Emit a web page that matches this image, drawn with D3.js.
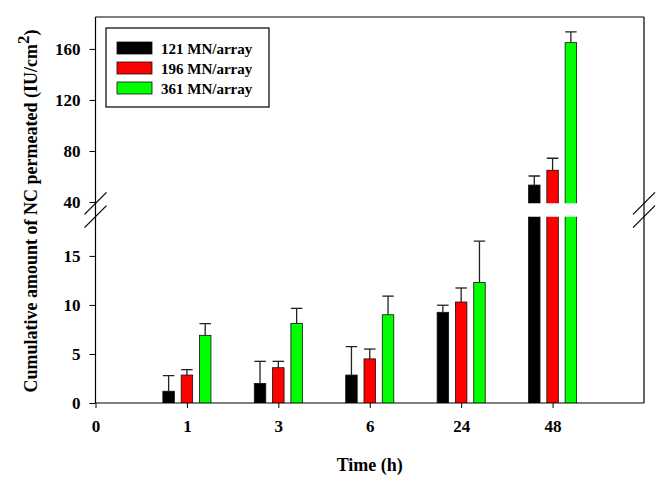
<!DOCTYPE html>
<html>
<head>
<meta charset="utf-8">
<script src="https://cdn.jsdelivr.net/npm/d3@7"></script>
<style>
  body { margin: 0; background: #fff; }
  text { font-family: "Liberation Serif", "Times New Roman", serif; font-weight: bold; }
</style>
</head>
<body>
<div id="chart"></div>
<script>
// data
const times = ["0", "1", "3", "6", "24", "48"];
const seriesNames = ["121 MN/array", "196 MN/array", "361 MN/array"];
const seriesColors = ["#000000", "#ff0000", "#00ff00"];
const mean121 = [null, 1.2, 2.0, 2.85, 9.25, 53.3];
const sd121   = [null, 1.6, 2.25, 2.9, 0.72, 7.1];
const mean196 = [null, 2.85, 3.6, 4.5, 10.3, 64.9];
const sd196   = [null, 0.55, 0.65, 1.0, 1.43, 9.4];
const mean361 = [null, 6.9, 8.1, 9.0, 12.3, 164.9];
const sd361   = [null, 1.2, 1.55, 1.9, 4.2, 8.4];
const lowTicks = [0, 5, 10, 15];
const highTicks = [40, 80, 120, 160];

const means = [mean121, mean196, mean361];
const sds = [sd121, sd196, sd361];

const W = 671, H = 482;
const pLeft = 95.5, pRight = 644, pTop = 17, pBottom = 403;
const lowTop = 216.7, highBottom = 203.3;

const svg = d3.select("#chart").append("svg")
  .attr("width", W).attr("height", H);

const x = d3.scaleLinear().domain([0, 6]).range([pLeft, pRight]);
const yLow = d3.scaleLinear().domain([0, 19]).range([pBottom, lowTop]);
const yHigh = d3.scaleLinear().domain([39, 185]).range([highBottom, pTop]);

const barW = 11.5, barStep = 18.3;

// bars, drawn in both panels and clipped
svg.append("clipPath").attr("id", "clipLow").append("rect")
  .attr("x", pLeft).attr("y", lowTop).attr("width", pRight - pLeft).attr("height", pBottom - lowTop);
svg.append("clipPath").attr("id", "clipHigh").append("rect")
  .attr("x", pLeft).attr("y", pTop).attr("width", pRight - pLeft).attr("height", highBottom - pTop);

const rows = [];
means.forEach((m, s) => {
  m.forEach((v, i) => {
    if (v != null) rows.push({ s, i, v, sd: sds[s][i] });
  });
});

function drawPanel(y, clip, domainMin) {
  const g = svg.append("g").attr("clip-path", `url(#${clip})`);
  g.selectAll("rect.bar")
    .data(rows.filter(d => d.v > domainMin))
    .enter().append("rect")
    .attr("class", "bar")
    .attr("x", d => x(d.i) + (d.s - 1) * barStep - barW / 2)
    .attr("width", barW)
    .attr("y", d => y(d.v))
    .attr("height", d => y(domainMin) - y(d.v) + 2)
    .attr("fill", d => seriesColors[d.s])
    .attr("stroke", "#111")
    .attr("stroke-width", 0.8);

  const eb = g.selectAll("g.err")
    .data(rows.filter(d => d.v + d.sd > domainMin && d.v < y.domain()[1]))
    .enter().append("g").attr("class", "err");
  eb.append("line")
    .attr("x1", d => x(d.i) + (d.s - 1) * barStep)
    .attr("x2", d => x(d.i) + (d.s - 1) * barStep)
    .attr("y1", d => y(d.v))
    .attr("y2", d => y(d.v + d.sd))
    .attr("stroke", "#222").attr("stroke-width", 1.3);
  eb.append("line")
    .attr("x1", d => x(d.i) + (d.s - 1) * barStep - barW / 2)
    .attr("x2", d => x(d.i) + (d.s - 1) * barStep + barW / 2)
    .attr("y1", d => y(d.v + d.sd))
    .attr("y2", d => y(d.v + d.sd))
    .attr("stroke", "#222").attr("stroke-width", 1.3);
}
drawPanel(yLow, "clipLow", 0);
drawPanel(yHigh, "clipHigh", 39);

// axes
const tickFont = 17;
const axLow = svg.append("g").attr("transform", `translate(${pLeft},0)`)
  .call(d3.axisLeft(yLow).tickValues(lowTicks).tickSize(6).tickPadding(9));
const axHigh = svg.append("g").attr("transform", `translate(${pLeft},0)`)
  .call(d3.axisLeft(yHigh).tickValues(highTicks).tickSize(6).tickPadding(9));
const axX = svg.append("g").attr("transform", `translate(0,${pBottom})`)
  .call(d3.axisBottom(x).tickValues(d3.range(6)).tickFormat(i => times[i]).tickSize(5).tickPadding(12));
[axLow, axHigh, axX].forEach(a => {
  a.select(".domain").remove();
  a.selectAll("text").attr("font-size", tickFont).attr("fill", "#000")
    .style("font-family", '"Liberation Serif", serif').style("font-weight", "bold");
  a.selectAll("line").attr("stroke", "#000");
});

// frame
const frame = svg.append("g").attr("stroke", "#000").attr("stroke-width", 1.2).attr("fill", "none");
frame.append("line").attr("x1", pLeft).attr("x2", pRight).attr("y1", pTop).attr("y2", pTop);
frame.append("line").attr("x1", pLeft).attr("x2", pRight).attr("y1", pBottom).attr("y2", pBottom);
frame.append("line").attr("x1", pLeft).attr("x2", pLeft).attr("y1", pTop).attr("y2", pBottom);
frame.append("line").attr("x1", pRight).attr("x2", pRight).attr("y1", pTop).attr("y2", pBottom);

// break marks
[pLeft, pRight].forEach(cx => {
  [highBottom, lowTop].forEach(cy => {
    frame.append("line")
      .attr("x1", cx - 11).attr("y1", cy + 11)
      .attr("x2", cx + 11).attr("y2", cy - 11);
  });
});

// axis titles
svg.append("text")
  .attr("x", (pLeft + pRight) / 2).attr("y", 471)
  .attr("text-anchor", "middle").attr("font-size", 18)
  .text("Time (h)");

const yt = svg.append("text")
  .attr("transform", "translate(37,211) rotate(-90)")
  .attr("text-anchor", "middle").attr("font-size", 18);
yt.append("tspan").text("Cumulative amount of NC permeated (IU/cm");
yt.append("tspan").attr("dy", -8).attr("font-size", 17).text("2");
yt.append("tspan").attr("dy", 8).text(")");

// legend
const lg = svg.append("g");
lg.append("rect").attr("x", 106).attr("y", 28).attr("width", 163).attr("height", 79)
  .attr("fill", "#fff").attr("stroke", "#000").attr("stroke-width", 1.2);
seriesNames.forEach((name, s) => {
  const cy = 48 + s * 20;
  lg.append("rect").attr("x", 117).attr("y", cy - 6).attr("width", 35).attr("height", 12)
    .attr("fill", seriesColors[s]).attr("stroke", "#111").attr("stroke-width", 0.8);
  lg.append("text").attr("x", 161).attr("y", cy + 5.5).attr("font-size", 15).text(name);
});
</script>
</body>
</html>
